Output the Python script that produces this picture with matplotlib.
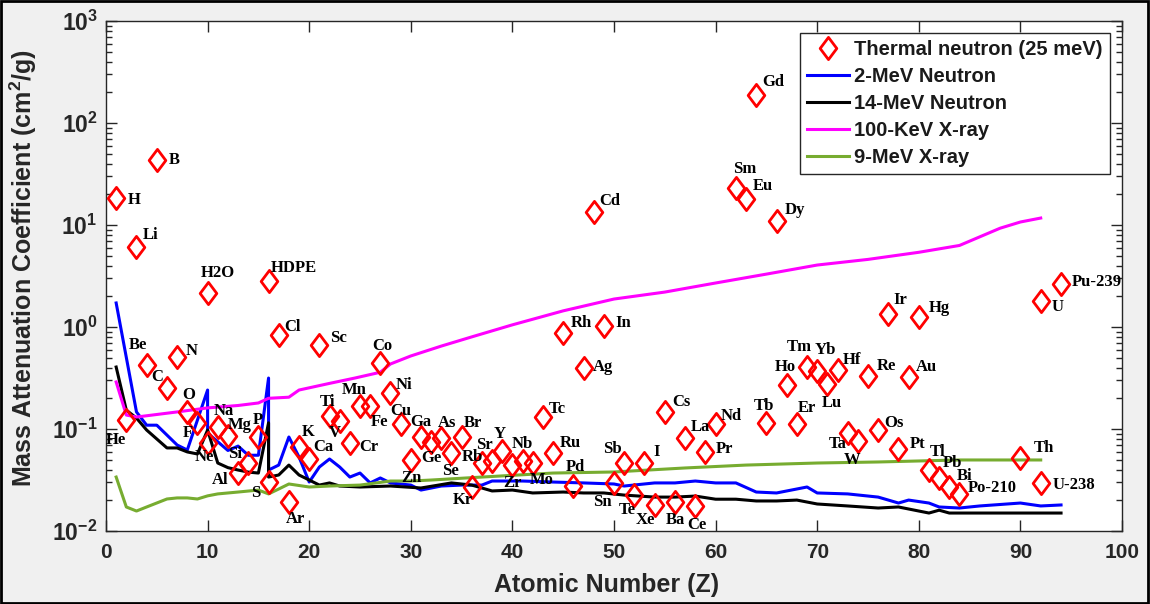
import matplotlib
matplotlib.use("Agg")
import matplotlib.pyplot as plt
from matplotlib.path import Path
from matplotlib.patches import Rectangle
from matplotlib.ticker import LogLocator, NullFormatter, FixedLocator, FixedFormatter

# ---------------- data ----------------
names = ["H", "He", "Li", "Be", "B", "C", "N", "O", "F", "Ne", "H2O", "HDPE",
         "Na", "Mg", "Al", "Si", "P", "S", "Cl", "Ar", "K", "Ca", "Sc", "Ti",
         "V", "Cr", "Mn", "Fe", "Co", "Ni", "Cu", "Zn", "Ga", "Ge", "As", "Se",
         "Br", "Kr", "Rb", "Sr", "Y", "Zr", "Nb", "Mo", "Tc", "Ru", "Rh", "Pd",
         "Ag", "Cd", "In", "Sn", "Sb", "Te", "I", "Xe", "Cs", "Ba", "La", "Ce",
         "Pr", "Nd", "Sm", "Eu", "Gd", "Tb", "Dy", "Ho", "Er", "Tm", "Yb", "Lu",
         "Hf", "Ta", "W", "Re", "Os", "Ir", "Pt", "Au", "Hg", "Tl", "Pb", "Bi",
         "Po-210", "Th", "U-238", "U", "Pu-239"]
z_pos = [1, 2, 3, 4, 5, 6, 7, 8, 9, 10, 10, 16,
         11, 12, 13, 14, 15, 16, 17, 18, 19, 20, 21, 22,
         23, 24, 25, 26, 27, 28, 29, 30, 31, 32, 33, 34,
         35, 36, 37, 38, 39, 40, 41, 42, 43, 44, 45, 46,
         47, 48, 49, 50, 51, 52, 53, 54, 55, 56, 57, 58,
         59, 60, 62, 63, 64, 65, 66, 67, 68, 69, 70, 71,
         72, 73, 74, 75, 76, 77, 78, 79, 80, 81, 82, 83,
         84, 90, 92, 92, 94]
thermal = [18.4, 0.123, 6.1, 0.42, 43.0, 0.25, 0.51, 0.147, 0.115, 0.073, 2.15, 2.83,
           0.105, 0.085, 0.037, 0.046, 0.084, 0.030, 0.835, 0.0192, 0.067, 0.051, 0.667, 0.134,
           0.120, 0.073, 0.168, 0.168, 0.443, 0.225, 0.112, 0.050, 0.083, 0.075, 0.082, 0.058,
           0.083, 0.027, 0.046, 0.049, 0.061, 0.044, 0.049, 0.046, 0.131, 0.058, 0.873, 0.0276,
           0.396, 13.4, 1.02, 0.0295, 0.046, 0.0225, 0.046, 0.018, 0.147, 0.0192, 0.082, 0.0176,
           0.060, 0.112, 23.0, 18.0, 188.0, 0.115, 10.9, 0.27, 0.112, 0.406, 0.37, 0.276,
           0.375, 0.091, 0.076, 0.33, 0.098, 1.34, 0.064, 0.324, 1.25, 0.0396, 0.033, 0.027,
           0.023, 0.052, 0.0295, 1.80, 2.64]

z_2mev = [1, 3, 4, 5, 7, 8, 10, 10, 11, 12, 13, 14, 15, 16, 16, 17, 18, 19, 20, 21,
          22, 23, 24, 25, 26, 27, 28, 30, 31, 33, 35, 37, 38, 41, 44, 47, 50, 51, 54,
          56, 58, 60, 62, 64, 66, 69, 70, 73, 76, 78, 79, 81, 82, 84, 86, 90, 92, 94]
mu_2mev = [1.72, 0.147, 0.109, 0.109, 0.0697, 0.0622, 0.241, 0.0914, 0.075, 0.0616, 0.068,
           0.0553, 0.0553, 0.316, 0.0396, 0.0443, 0.0835, 0.0531, 0.0302, 0.0424,
           0.0508, 0.0424, 0.0338, 0.037, 0.0296, 0.0331, 0.0296, 0.0282, 0.0252, 0.0276,
           0.0282, 0.0282, 0.0309, 0.0309, 0.0302, 0.0296, 0.0289, 0.0276, 0.0296,
           0.0296, 0.0309, 0.0296, 0.0296, 0.0241, 0.0236, 0.0270, 0.0236, 0.0231,
           0.0215, 0.0188, 0.0201, 0.0188, 0.0172, 0.0168, 0.0176, 0.0188, 0.0176, 0.018]

z_14mev = [1, 2, 3, 4, 6, 7, 8, 9, 10, 11, 12, 13, 14, 15, 16, 16, 17, 18, 19, 20,
           21, 22, 23, 25, 28, 31, 34, 36, 38, 40, 42, 45, 47, 49, 51, 54, 56, 58, 60,
           62, 64, 66, 68, 70, 73, 76, 78, 81, 82, 83, 94]
mu_14mev = [0.405, 0.153, 0.128, 0.0977, 0.0652, 0.0652, 0.0596, 0.0569, 0.0977, 0.0464,
            0.0418, 0.0396, 0.0378, 0.0370, 0.115, 0.0338, 0.0354, 0.0443, 0.0354, 0.0316,
            0.0282, 0.0296, 0.0276, 0.0270, 0.0276, 0.0264, 0.0296, 0.0282, 0.0247, 0.0252,
            0.0236, 0.0241, 0.0236, 0.0236, 0.0225, 0.0215, 0.0215, 0.0220, 0.0205,
            0.0205, 0.0197, 0.0197, 0.0201, 0.0184, 0.0176, 0.0168, 0.0172, 0.0150,
            0.0160, 0.0150, 0.0150]

z_100kev = [1, 2, 3, 7, 10, 13, 15, 16, 18, 19, 22, 24.5, 27, 28, 30, 33, 36, 40, 45, 50,
            55, 60, 65, 70, 75, 80, 84, 88, 90, 92]
mu_100kev = [0.289, 0.137, 0.131, 0.147, 0.161, 0.17, 0.18, 0.20, 0.205, 0.241, 0.28, 0.316,
             0.36, 0.434, 0.52, 0.65, 0.80, 1.05, 1.44, 1.88, 2.2, 2.7, 3.3, 4.05, 4.6,
             5.4, 6.3, 9.3, 10.7, 11.7]

z_9mev = [1, 2, 3, 4, 6, 7, 8, 9, 10, 11, 13, 15, 16, 17, 18, 20, 22, 25, 28, 30, 32,
          37, 44, 50, 57, 63, 70, 76, 84, 92]
mu_9mev = [0.0338, 0.0172, 0.0157, 0.0172, 0.0206, 0.0211, 0.0211, 0.0206, 0.0221, 0.0231,
           0.0241, 0.0252, 0.0231, 0.0258, 0.0289, 0.0270, 0.0276, 0.0282, 0.0309, 0.0309,
           0.0316, 0.0338, 0.0370, 0.0379, 0.0415, 0.0443, 0.0464, 0.0475, 0.0497, 0.0497]

x_ticks = [0, 10, 20, 30, 40, 50, 60, 70, 80, 90, 100]
y_ticks = [1e-2, 1e-1, 1e0, 1e1, 1e2, 1e3]
y_tick_labels = [r"$10^{-2}$", r"$10^{-1}$", r"$10^{0}$", r"$10^{1}$", r"$10^{2}$", r"$10^{3}$"]

series_labels = ["Thermal neutron (25 meV)", "2-MeV Neutron", "14-MeV Neutron",
                 "100-KeV X-ray", "9-MeV X-ray"]

# label offsets (pixels) relative to each diamond - layout only
label_offsets = {
    "H": (18, -2), "He": (-10, -20), "Li": (14, 12), "Be": (-9, 20), "B": (17, 0),
    "C": (-10, 11), "N": (15, 6), "O": (1, 17), "F": (-10, -10), "Ne": (-3, -14),
    "H2O": (10, 20), "HDPE": (25, 13), "Na": (6, 16), "Mg": (12, 11), "Al": (-18, -7),
    "Si": (-13, 9), "P": (-1, 17), "S": (-13, -11), "Cl": (14, 8), "Ar": (7, -17),
    "K": (9, 15), "Ca": (14, 12), "Sc": (19, 7), "Ti": (-2, 14), "V": (-5, -12),
    "Cr": (19, -4), "Mn": (-6, 16), "Fe": (9, -16), "Co": (2, 17), "Ni": (13, 8),
    "Cu": (0, 13), "Zn": (1, -18), "Ga": (0, 15), "Ge": (0, -16), "As": (6, 15),
    "Se": (-1, -18), "Br": (11, 14), "Kr": (-9, -13), "Rb": (-10, 6), "Sr": (-8, 16),
    "Y": (-3, 17), "Zr": (0, -18), "Nb": (0, 17), "Mo": (9, -17), "Tc": (14, 8),
    "Ru": (17, 10), "Rh": (18, 10), "Pd": (2, 19), "Ag": (19, 1), "Cd": (16, 11),
    "In": (19, 3), "Sn": (-12, -19), "Sb": (-12, 14), "Te": (-7, -15), "I": (12, 11),
    "Xe": (-9, -15), "Cs": (17, 10), "Ba": (0, -18), "La": (15, 11), "Ce": (2, -19),
    "Pr": (19, 3), "Nd": (16, 8), "Sm": (9, 19), "Eu": (17, 13), "Gd": (17, 13),
    "Tb": (-2, 17), "Dy": (18, 11), "Ho": (-1, 18), "Er": (10, 16), "Tm": (-8, 20),
    "Yb": (8, 21), "Lu": (5, -19), "Hf": (14, 10), "Ta": (-10, -11), "W": (-6, -19),
    "Re": (18, 10), "Os": (16, 7), "Ir": (12, 14), "Pt": (19, 5), "Au": (18, 10),
    "Hg": (21, 9), "Tl": (9, 18), "Pb": (13, 15), "Bi": (15, 11), "Po-210": (33, 6),
    "Th": (24, 10), "U-238": (33, -2), "U": (17, -6), "Pu-239": (36, 2),
}

# ---------------- style ----------------
plt.rcParams["font.family"] = ["Liberation Sans", "DejaVu Sans"]
plt.rcParams["font.weight"] = "bold"
plt.rcParams["mathtext.fontset"] = "custom"
plt.rcParams["mathtext.rm"] = "Liberation Sans:bold"
plt.rcParams["mathtext.it"] = "Liberation Sans:bold"
plt.rcParams["mathtext.bf"] = "Liberation Sans:bold"
plt.rcParams["mathtext.default"] = "rm"

W, H = 1150, 604
fig = plt.figure(figsize=(W / 100, H / 100), dpi=100, facecolor="#f0f0f0")
ax = fig.add_axes([106 / W, (H - 531) / H, 1016 / W, 510 / H])
ax.set_facecolor("white")

diamond = Path([(0, 1), (0.75, 0), (0, -1), (-0.75, 0), (0, 1)],
               [Path.MOVETO, Path.LINETO, Path.LINETO, Path.LINETO, Path.CLOSEPOLY])

ax.plot(z_pos, thermal, linestyle="none", marker=diamond, markersize=16,
        markerfacecolor="none", markeredgecolor="#ff0000", markeredgewidth=2.0,
        label=series_labels[0], zorder=5)
ax.plot(z_2mev, mu_2mev, color="#0000ff", lw=2.2, label=series_labels[1], zorder=3)
ax.plot(z_14mev, mu_14mev, color="black", lw=2.2, label=series_labels[2], zorder=3)
ax.plot(z_100kev, mu_100kev, color="#ff00ff", lw=2.2, label=series_labels[3], zorder=3)
ax.plot(z_9mev, mu_9mev, color="#77ac30", lw=2.2, label=series_labels[4], zorder=3)

for n, z, v in zip(names, z_pos, thermal):
    dx, dy = label_offsets[n]
    ax.annotate(n, (z, v), xytext=(dx, dy), textcoords="offset pixels",
                ha="center", va="center", fontsize=12, fontweight="bold",
                family=["Liberation Serif", "DejaVu Serif"], color="black", zorder=6)

ax.set_yscale("log")
ax.set_xlim(0, 100)
ax.set_ylim(1e-2, 1e3)

ax.xaxis.set_major_locator(FixedLocator(x_ticks))
ax.set_xticklabels([str(t) for t in x_ticks])
ax.yaxis.set_major_locator(FixedLocator(y_ticks))
ax.yaxis.set_major_formatter(FixedFormatter(y_tick_labels))
ax.yaxis.set_minor_locator(LogLocator(base=10, subs=[2, 3, 4, 5, 6, 7, 8, 9], numticks=20))
ax.yaxis.set_minor_formatter(NullFormatter())

ax.tick_params(axis="both", which="both", direction="in", top=True, right=True,
               color="#262626", width=1.0)
ax.tick_params(axis="both", which="major", length=8)
ax.tick_params(axis="y", which="minor", length=4.5)
ax.tick_params(axis="x", which="major", pad=9)
ax.tick_params(axis="y", which="major", pad=6)
for lab in ax.get_xticklabels():
    lab.set_fontsize(15)
    lab.set_fontweight("bold")
    lab.set_color("#262626")
for lab in ax.get_yticklabels():
    lab.set_fontsize(16.5)
    lab.set_color("#262626")
for s in ax.spines.values():
    s.set_color("#262626")
    s.set_linewidth(1.0)

ax.set_xlabel("Atomic Number (Z)", fontsize=18, fontweight="bold", color="#262626")
ax.xaxis.set_label_coords(0.493, -0.083)
ax.set_ylabel(r"Mass Attenuation Coefficient (cm$^{2}$/g)", fontsize=18,
              fontweight="bold", color="#262626")
ax.yaxis.set_label_coords(-0.066, 0.515)

leg = ax.legend(loc="upper right", bbox_to_anchor=(1110 / W, 1 - 33 / H),
                bbox_transform=fig.transFigure, borderaxespad=0, fontsize=14.5,
                frameon=True, fancybox=False, edgecolor="#262626", framealpha=1,
                handlelength=2.1, handletextpad=0.25, labelspacing=0.4,
                borderpad=0.35)
leg.get_frame().set_linewidth(1.0)
for t in leg.get_texts():
    t.set_color("#1a1a1a")

fig.patches.append(Rectangle((0.001, 0.002), 0.997, 0.996, transform=fig.transFigure,
                             fill=False, edgecolor="black", linewidth=2.0))

fig.savefig("out.png", dpi=100, facecolor=fig.get_facecolor())
